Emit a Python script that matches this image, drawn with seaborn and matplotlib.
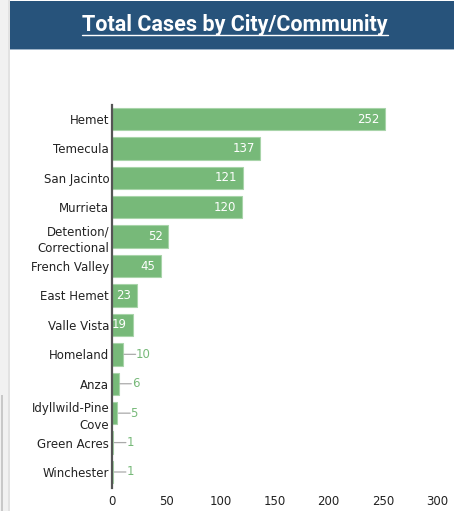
import matplotlib
matplotlib.use("Agg")
import matplotlib.pyplot as plt
from matplotlib.patches import Rectangle
from matplotlib.lines import Line2D
import seaborn as sns
import pandas as pd

cities = ["Hemet", "Temecula", "San Jacinto", "Murrieta", "Detention/\nCorrectional",
          "French Valley", "East Hemet", "Valle Vista", "Homeland", "Anza",
          "Idyllwild-Pine\nCove", "Green Acres", "Winchester"]
cases = [252, 137, 121, 120, 52, 45, 23, 19, 10, 6, 5, 1, 1]
x_ticks = [0, 50, 100, 150, 200, 250, 300]
title = "Total Cases by City/Community"

BAR = "#77b979"
HEADER = "#27537b"
W, H = 454, 511

sns.set_theme(style="white")
plt.rcParams['font.family'] = ['DejaVu Sans']

fig = plt.figure(figsize=(W / 100, H / 100), dpi=100)
fig.patch.set_facecolor("white")

# left gray strip
fig.add_artist(Rectangle((0, 0), 8 / W, 1, transform=fig.transFigure,
                         facecolor="#f1f1f1", edgecolor="none", zorder=0))
fig.add_artist(Rectangle((8 / W, 0), 2 / W, 1, transform=fig.transFigure,
                         facecolor="#e2e2e2", edgecolor="none", zorder=0))
fig.add_artist(Rectangle((1 / W, 0), 1.5 / W, 1 - 395 / H, transform=fig.transFigure,
                         facecolor="#c8c8c8", edgecolor="none", zorder=0))
# header band
fig.add_artist(Rectangle((10 / W, 1 - 49 / H), 1 - 10 / W, 48 / H, transform=fig.transFigure,
                         facecolor=HEADER, edgecolor="none", zorder=1))
fig.add_artist(Rectangle((10 / W, 1 - 50.5 / H), 1 - 10 / W, 1.5 / H, transform=fig.transFigure,
                         facecolor="#9fb4c8", edgecolor="none", zorder=1))
t = fig.text(235 / W, 1 - 25 / H, title, color="white", fontsize=15.5, fontweight="bold",
             family=["Roboto", "DejaVu Sans"], ha="center", va="center", zorder=2)

ax = fig.add_axes([112 / W, 1 - 488 / H, 325 / W, 383 / H])
df = pd.DataFrame({"city": cities, "cases": cases})
sns.barplot(data=df, x="cases", y="city", color=BAR, saturation=1, width=0.76,
            edgecolor="#a8d4a9", linewidth=0.8, ax=ax)

ax.set_xlim(0, 300)
ax.set_ylim(12.544, -0.476)
ax.set_xticks(x_ticks)
ax.set_xticklabels([str(v) for v in x_ticks])
ax.set_xlabel("")
ax.set_ylabel("")
for s in ["top", "right", "bottom"]:
    ax.spines[s].set_visible(False)
ax.spines["left"].set_color("#555555")
ax.spines["left"].set_linewidth(1.6)
ax.tick_params(axis="both", length=0, labelsize=8.5, colors="#222222")
ax.tick_params(axis="x", pad=5)
ax.tick_params(axis="y", pad=2)
for lbl in ax.get_yticklabels():
    lbl.set_linespacing(1.4)

for i, v in enumerate(cases):
    if v >= 19:
        ax.annotate(str(v), xy=(v, i), xytext=(-4, 0), textcoords="offset points",
                    ha="right", va="center", color="white", fontsize=8.5)
    else:
        ax.annotate(str(v), xy=(v, i), xytext=(9.5, 0), textcoords="offset points",
                    ha="left", va="center", color=BAR, fontsize=8.5,
                    arrowprops=dict(arrowstyle="-", color="#aaaaaa", lw=0.9,
                                    patchA=None, shrinkA=0.3, shrinkB=0.8,
                                    relpos=(0, 0.5)))

# underline for title
fig.canvas.draw()
r = fig.canvas.get_renderer()
bb = t.get_window_extent(renderer=r)
uy = bb.y0 + 0.5
fig.add_artist(Line2D([bb.x0 / W, bb.x1 / W], [uy / H, uy / H],
                      transform=fig.transFigure, color="white", lw=1.0, zorder=3))

fig.savefig("out.png", dpi=100)
